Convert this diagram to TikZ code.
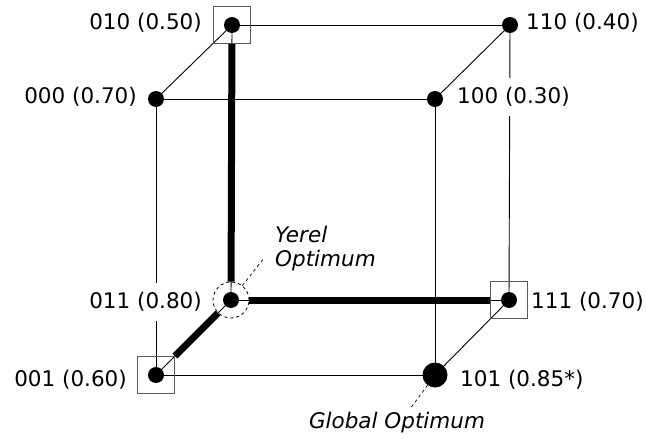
\documentclass[tikz,border=0pt]{standalone}
\usepackage{fontspec}
\setmainfont{DejaVu Sans}
\begin{document}
\begin{tikzpicture}[x=1pt,y=-1pt,
  every node/.style={font=\fontsize{21.5}{25}\selectfont},
  dot/.style={circle,fill=black,inner sep=0pt,minimum size=16pt},
  bigdot/.style={circle,fill=black,inner sep=0pt,minimum size=25pt},
  marker/.style={draw=black!65,line width=0.9pt,inner sep=0pt,minimum size=37pt},
  ring/.style={circle,draw=black,dashed,line width=0.8pt,inner sep=0pt,minimum size=36pt},
  edge/.style={line width=0.9pt},
  pathedge/.style={line width=7pt},
  lbl/.style={fill=white,inner xsep=2pt,inner ysep=9pt},
  note/.style={font=\fontsize{21.5}{24}\selectfont\itshape,align=left,inner sep=0pt},
  pointer/.style={dashed,line width=0.7pt}]
\useasboundingbox (0,0) rectangle (646,439);
% vertices
\coordinate (p010) at (232,25);
\coordinate (p110) at (510,25);
\coordinate (p000) at (156,99);
\coordinate (p100) at (435,99);
\coordinate (p011) at (231,300);
\coordinate (p111) at (509,300);
\coordinate (p001) at (156,375);
\coordinate (p101) at (435,375);
% thin edges
\draw[edge] (p010) -- (p110);
\draw[edge] (p000) -- (p100);
\draw[edge] (p011) -- (p111);
\draw[edge] (p001) -- (p101);
\draw[edge] (p010) -- (p011);
\draw[edge] (p110) -- (p111);
\draw[edge] (p000) -- (p001);
\draw[edge] (p100) -- (p101);
% labels
\node[lbl,anchor=east] (l010) at (204,23) {010 (0.50)};
\node[lbl,anchor=east] (l000) at (139,97) {000 (0.70)};
\node[lbl,anchor=west] (l110) at (524,23) {110 (0.40)};
\node[lbl,anchor=west] (l100) at (455,97) {100 (0.30)};
\node[lbl,anchor=east] (l011) at (204,302) {011 (0.80)};
\node[lbl,anchor=west] (l111) at (529,302) {111 (0.70)};
\node[lbl,anchor=east] (l001) at (129,380) {001 (0.60)};
\node[lbl,anchor=west] (l101) at (458,380) {101 (0.85*)};
% diagonal edges
\draw[edge] (p010) -- (p000);
\draw[edge] (p110) -- (p100);
\draw[edge] (p011) -- (p001);
\draw[edge] (p111) -- (p101);
% markers
\node[marker] (b010) at (p010) {};
\node[marker] (b111) at (p111) {};
\node[marker] (b001) at (p001) {};
\node[ring] (c011) at (p011) {};
% dots
\node[dot] (n010) at (p010) {};
\node[dot] (n110) at (p110) {};
\node[dot] (n000) at (p000) {};
\node[dot] (n100) at (p100) {};
\node[dot] (n011) at (p011) {};
\node[dot] (n111) at (p111) {};
\node[dot] (n001) at (p001) {};
\node[bigdot] (n101) at (p101) {};
% search path
\draw[pathedge] (b010) -- (c011);
\draw[pathedge] (c011) -- (b111);
\draw[pathedge] (c011) -- (b001);
% annotations
\node[note,anchor=west] (yerel) at (275,249) {Yerel\\Optimum};
\coordinate (yend) at (264,258);
\draw[pointer] (c011) -- (yend);
\node[note,anchor=center] (global) at (397,423) {Global Optimum};
\coordinate (gend) at (410,409);
\draw[pointer] (n101) -- (gend);
\end{tikzpicture}
\end{document}
